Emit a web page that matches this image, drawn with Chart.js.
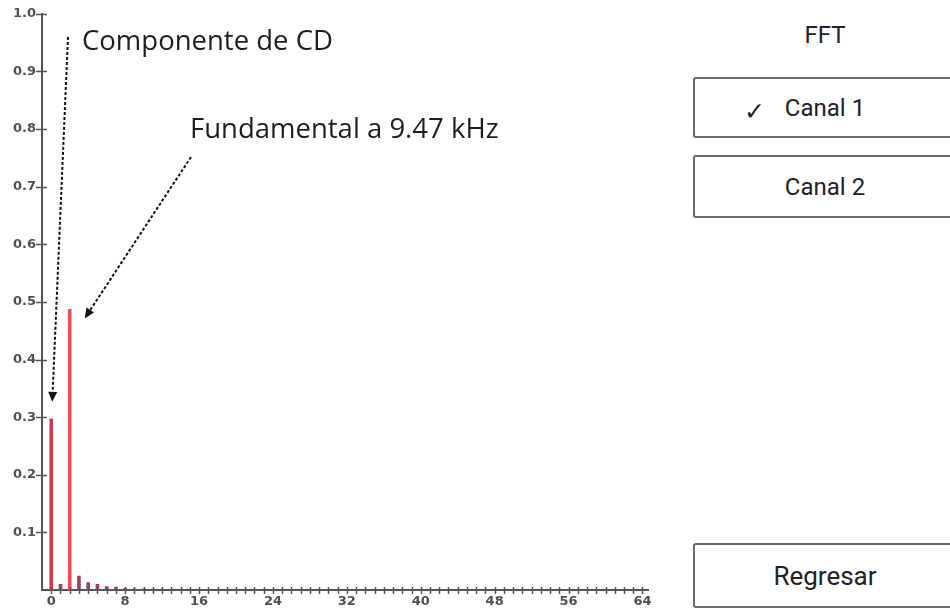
<!DOCTYPE html>
<html><head><meta charset="utf-8">
<script src="https://cdn.jsdelivr.net/npm/chart.js@4"></script>
<style>
html,body{margin:0;padding:0;background:#fff;width:950px;height:613px;overflow:hidden;}
#wrap{position:absolute;left:0;top:0;width:690px;height:613px;}
.title{position:absolute;left:693px;width:264px;top:20px;text-align:center;font:24px Roboto;color:#222;line-height:30px;}
.btn{position:absolute;left:693px;width:264px;box-sizing:border-box;border:2px solid #6a6a6a;border-radius:3px;display:flex;align-items:center;justify-content:center;font:24px Roboto;color:#222;}
.check{position:absolute;left:744px;top:97px;font:25px "DejaVu Sans";color:#222;line-height:30px;}
</style></head>
<body>
<div id="wrap"><canvas id="c" width="690" height="613"></canvas></div>
<div class="title">FFT</div>
<div class="btn" style="top:77px;height:61px;">Canal 1</div>
<div class="check">✓</div>
<div class="btn" style="top:155px;height:63px;">Canal 2</div>
<div class="btn" style="top:543px;height:65px;font-size:26px;">Regresar</div>
<script>
// FFT bins (index) and magnitudes
const bins = [0,1,2,3,4,5,6,7,8,9,10,11,12,13,14,15,16,17,18,19,20];
const magnitudes = [0.297,0.010,0.487,0.024,0.013,0.010,0.006,0.005,0.003,0.002,0.002,0.0015,0.0015,0.001,0.001,0.001,0.001,0.001,0.001,0.001,0.001];
const xTickLabels = ['0','8','16','24','32','40','48','56','64'];
const yTickLabels = ['0.1','0.2','0.3','0.4','0.5','0.6','0.7','0.8','0.9','1.0'];
const notes = [
  {text:'Componente de CD', bin:0},
  {text:'Fundamental a 9.47 kHz', bin:2}
];

const tickMarks = {
  id:'tickMarks',
  afterDraw(chart){
    const ctx = chart.ctx, xs = chart.scales.x, ys = chart.scales.y;
    ctx.save();
    ctx.strokeStyle = '#555'; ctx.lineWidth = 1.5;
    ctx.beginPath();
    xs.ticks.forEach(t=>{
      if (!Number.isInteger(t.value) || t.value < 0) return;
      const px = Math.round(xs.getPixelForValue(t.value)) + 0.5;
      ctx.moveTo(px, xs.top - 3); ctx.lineTo(px, xs.top + 4);
    });
    ys.ticks.forEach(t=>{
      if (t.value <= 0) return;
      const py = Math.round(ys.getPixelForValue(t.value)) + 0.5;
      ctx.moveTo(ys.right - 6, py); ctx.lineTo(ys.right + 5, py);
    });
    ctx.stroke();
    ctx.restore();
  }
};

function dottedArrow(ctx, x1, y1, x2, y2){
  const dx = x2 - x1, dy = y2 - y1, L = Math.hypot(dx, dy);
  const ux = dx / L, uy = dy / L, head = 10, hw = 4.5;
  ctx.save();
  ctx.strokeStyle = '#111'; ctx.fillStyle = '#111';
  ctx.lineWidth = 2; ctx.setLineDash([3,2]);
  ctx.beginPath(); ctx.moveTo(x1, y1); ctx.lineTo(x2 - ux*head, y2 - uy*head); ctx.stroke();
  ctx.setLineDash([]);
  ctx.beginPath();
  ctx.moveTo(x2, y2);
  ctx.lineTo(x2 - ux*head - uy*hw, y2 - uy*head + ux*hw);
  ctx.lineTo(x2 - ux*head + uy*hw, y2 - uy*head - ux*hw);
  ctx.closePath(); ctx.fill();
  ctx.restore();
}

const annotate = {
  id:'annotate',
  afterDraw(chart){
    const ctx = chart.ctx, xs = chart.scales.x, ys = chart.scales.y;
    const a0 = notes[0], a1 = notes[1];
    const i0 = bins.indexOf(a0.bin), i1 = bins.indexOf(a1.bin);
    dottedArrow(ctx, 68, 37, xs.getPixelForValue(a0.bin) + 1, ys.getPixelForValue(magnitudes[i0]) - 17);
    dottedArrow(ctx, 191, 157, xs.getPixelForValue(a1.bin) + 15, ys.getPixelForValue(magnitudes[i1]) + 9);
    ctx.save();
    ctx.fillStyle = '#1e1e1e';
    ctx.font = '27.5px "Open Sans"';
    ctx.textBaseline = 'alphabetic';
    ctx.fillText(a0.text, 82, 50);
    ctx.fillText(a1.text, 190, 138);
    ctx.restore();
  }
};

const tickFont = {family:'DejaVu Sans', size:13, weight:'bold'};

new Chart(document.getElementById('c'), {
  type:'bar',
  data:{
    datasets:[{
      data: bins.map((b,i)=>({x:b, y:magnitudes[i]})),
      backgroundColor: c => (c.raw && c.raw.y > 0.2) ? (c.dataIndex === 0 ? '#d03a4a' : '#ef4d58') : '#9a4656',
      barThickness: 3,
      borderWidth: 0
    }]
  },
  options:{
    responsive:false, animation:false, devicePixelRatio:1,
    layout:{padding:{left:0, right:42, top:13, bottom:0}},
    plugins:{legend:{display:false}, tooltip:{enabled:false}},
    scales:{
      x:{
        type:'linear', min:-1, max:64.6, offset:false,
        ticks:{stepSize:1, autoSkip:false, maxRotation:0, includeBounds:false, padding:4,
          font:tickFont, color:'#505050',
          callback: v => xTickLabels.includes(String(v)) ? String(v) : ''},
        grid:{display:false, drawTicks:false},
        border:{display:true, color:'#555', width:2},
        afterFit: s => { s.height = 23; }
      },
      y:{
        min:0, max:1,
        ticks:{stepSize:0.1, padding:6, font:tickFont, color:'#505050',
          callback: v => { const k = Math.round(v*10); return k > 0 ? yTickLabels[k-1] : ''; }},
        grid:{display:false, drawTicks:false},
        border:{display:true, color:'#555', width:2},
        afterFit: s => { s.width = 42; }
      }
    }
  },
  plugins:[tickMarks, annotate]
});
</script>
</body></html>
